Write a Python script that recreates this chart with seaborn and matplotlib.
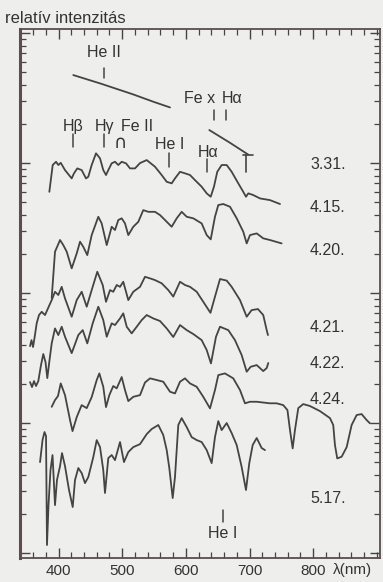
import numpy as np
import matplotlib
matplotlib.use("Agg")
import matplotlib.pyplot as plt
import seaborn as sns
from matplotlib.ticker import LogLocator, NullFormatter, MultipleLocator, FixedLocator

# ---- spectra: wavelength (nm) and log10 relative intensity ----
# 3.31. is only a continuum, drawn in two pieces
wl_331_a = [423.2, 465.2, 517.4, 548.8, 575.1]
lg_331_a = [2.677, 2.613, 2.528, 2.472, 2.428]
wl_331_b = [636.8, 669.3, 698.0]
lg_331_b = [2.254, 2.156, 2.065]

wl_415 = [385.6, 390.9, 396.1, 399.7, 403.5, 410.2, 420.7, 424.3, 429.5, 436.4,
          443.2, 446.8, 452.1, 458.9, 465.2, 470.3, 474.6, 478.2, 483.5, 488.7,
          493.9, 499.2, 506.0, 512.3, 520.1, 528.0, 538.5, 551.5, 562.0, 569.9,
          577.7, 582.9, 590.8, 598.6, 606.5, 614.3, 624.8, 632.7, 639.0, 644.1,
          649.3, 656.2, 664.1, 671.9, 682.3, 690.1, 694.4, 698.0, 705.8, 716.4,
          732.1, 747.8]
lg_415 = [1.779, 1.985, 2.010, 1.985, 2.002, 1.946, 1.882, 1.921, 1.959, 1.946,
          1.882, 1.895, 1.985, 2.075, 2.036, 1.946, 1.908, 1.946, 1.998, 2.010,
          1.985, 2.010, 1.998, 1.959, 1.959, 2.000, 2.023, 1.972, 1.908, 1.856,
          1.844, 1.882, 1.933, 1.921, 1.908, 1.869, 1.818, 1.767, 1.741, 1.818,
          1.933, 1.985, 1.985, 1.933, 1.844, 1.779, 1.741, 1.767, 1.754, 1.728,
          1.715, 1.685]

wl_420 = [389.3, 394.5, 402.4, 407.5, 412.9, 420.7, 428.6, 433.8, 438.9, 445.2,
          452.1, 462.5, 467.8, 475.7, 483.5, 488.7, 493.9, 499.2, 504.4, 509.6,
          517.4, 525.3, 533.1, 541.0, 551.5, 559.4, 567.2, 577.7, 585.6, 593.4,
          601.3, 611.6, 624.8, 632.7, 639.0, 645.7, 650.9, 658.7, 669.3, 679.8,
          690.1, 695.5, 700.7, 711.2, 721.5, 732.1, 750.4]
lg_420 = [0.962, 1.318, 1.408, 1.369, 1.318, 1.190, 1.305, 1.395, 1.356, 1.292,
          1.446, 1.587, 1.536, 1.369, 1.510, 1.485, 1.562, 1.575, 1.536, 1.446,
          1.510, 1.548, 1.638, 1.625, 1.625, 1.600, 1.562, 1.510, 1.575, 1.625,
          1.587, 1.575, 1.536, 1.446, 1.413, 1.587, 1.677, 1.685, 1.664, 1.575,
          1.472, 1.382, 1.446, 1.459, 1.421, 1.408, 1.382]

wl_421 = [355.3, 357.6, 360.0, 362.3, 365.8, 369.4, 373.6, 378.8, 384.0, 389.3,
          394.5, 399.7, 405.0, 410.2, 420.7, 428.6, 436.4, 444.3, 452.1, 460.9,
          469.4, 474.6, 480.9, 486.0, 491.4, 496.6, 501.7, 509.6, 517.4, 528.0,
          535.8, 543.7, 551.5, 562.0, 572.4, 580.2, 590.8, 598.6, 606.5, 617.0,
          627.3, 638.6, 645.7, 653.6, 664.1, 671.9, 685.0, 695.5, 703.3, 713.2,
          721.5, 726.9, 728.9]
lg_421 = [0.592, 0.638, 0.585, 0.654, 0.769, 0.831, 0.856, 0.831, 0.888, 0.946,
          1.010, 0.985, 1.048, 0.959, 0.818, 0.946, 1.010, 0.895, 1.023, 1.164,
          1.062, 0.933, 1.023, 1.010, 1.062, 1.048, 1.087, 0.946, 1.010, 1.048,
          1.125, 1.113, 1.100, 1.075, 1.023, 0.973, 1.087, 1.062, 1.048, 1.010,
          0.933, 0.848, 0.972, 1.108, 1.096, 1.048, 0.946, 0.818, 0.869, 0.877,
          0.831, 0.715, 0.677]

wl_422 = [355.3, 358.4, 361.5, 364.7, 368.3, 372.5, 376.1, 379.6, 382.4, 385.9,
          389.3, 394.5, 399.7, 405.0, 410.2, 420.7, 431.1, 438.0, 445.2, 453.7,
          462.5, 470.3, 475.7, 483.5, 488.7, 496.6, 501.7, 507.1, 514.9, 522.8,
          530.6, 538.5, 548.8, 559.4, 569.9, 580.2, 590.8, 601.3, 611.6, 624.8,
          632.7, 639.4, 647.3, 653.6, 666.6, 677.1, 687.6, 695.5, 701.8, 711.2,
          721.5, 726.9, 729.4]
lg_422 = [0.315, 0.277, 0.323, 0.285, 0.323, 0.446, 0.531, 0.469, 0.346, 0.485,
          0.613, 0.728, 0.677, 0.741, 0.664, 0.538, 0.677, 0.715, 0.613, 0.767,
          0.895, 0.792, 0.664, 0.767, 0.754, 0.805, 0.844, 0.741, 0.690, 0.741,
          0.792, 0.831, 0.805, 0.785, 0.728, 0.662, 0.754, 0.715, 0.685, 0.638,
          0.562, 0.459, 0.664, 0.741, 0.715, 0.638, 0.523, 0.395, 0.433, 0.446,
          0.400, 0.423, 0.462]

wl_424 = [389.3, 394.5, 399.2, 403.5, 410.2, 418.1, 422.0, 428.6, 436.4, 444.3,
          452.1, 460.0, 464.1, 470.3, 474.6, 479.8, 486.0, 491.4, 499.2, 504.4,
          509.6, 517.4, 528.0, 535.8, 543.7, 554.2, 564.5, 575.1, 582.9, 590.8,
          598.6, 606.5, 617.0, 627.3, 637.9, 645.7, 650.9, 661.4, 674.4, 685.0,
          692.8, 700.7, 711.2, 721.5, 732.1, 742.6, 752.9, 759.5, 763.5, 767.7,
          771.3, 776.5, 784.3, 794.9, 810.6, 826.3, 831.4, 834.1, 837.7, 844.6,
          852.5, 860.3, 868.2, 876.0, 883.9, 889.1]
lg_424 = [0.125, 0.177, 0.208, 0.305, 0.215, 0.023, -0.062, 0.046, 0.138, 0.115,
          0.200, 0.331, 0.382, 0.279, 0.123, 0.215, 0.285, 0.267, 0.354, 0.254,
          0.169, 0.202, 0.215, 0.312, 0.344, 0.331, 0.318, 0.241, 0.228, 0.318,
          0.344, 0.305, 0.279, 0.202, 0.113, 0.254, 0.369, 0.382, 0.344, 0.254,
          0.152, 0.164, 0.164, 0.158, 0.152, 0.152, 0.138, 0.100, -0.054, -0.195,
          -0.054, 0.115, 0.146, 0.131, 0.092, 0.038, -0.015, -0.169, -0.272, -0.259,
          -0.185, -0.015, 0.062, 0.069, 0.023, -0.002]

wl_517 = [371.0, 374.9, 378.0, 380.4, 381.9, 384.3, 387.4, 390.6, 394.5, 397.6,
          402.4, 405.5, 410.2, 416.5, 422.3, 425.9, 431.1, 436.4, 441.6, 446.8,
          454.6, 460.0, 465.2, 470.3, 473.0, 478.2, 483.5, 488.7, 496.6, 502.8,
          509.6, 517.4, 528.0, 538.5, 546.3, 556.7, 564.5, 569.9, 574.0, 579.3,
          582.9, 588.1, 593.4, 601.3, 609.1, 617.0, 624.8, 632.7, 640.5, 645.7,
          650.9, 656.2, 664.1, 671.9, 679.8, 687.6, 694.4, 699.6, 704.9, 711.2,
          719.0, 724.2]
lg_517 = [-0.300, -0.131, -0.069, -0.100, -0.938, -0.631, -0.362, -0.246, -0.631, -0.438,
          -0.331, -0.231, -0.331, -0.515, -0.646, -0.438, -0.346, -0.385, -0.462, -0.415,
          -0.262, -0.131, -0.185, -0.362, -0.538, -0.269, -0.246, -0.285, -0.146, -0.300,
          -0.223, -0.185, -0.162, -0.085, -0.046, -0.015, -0.092, -0.208, -0.346, -0.577,
          -0.415, -0.015, 0.038, -0.031, -0.108, -0.131, -0.146, -0.208, -0.308, -0.108,
          0.015, -0.054, 0.000, -0.077, -0.169, -0.338, -0.515, -0.308, -0.169, -0.115,
          -0.192, -0.208]

# observing dates and where their labels sit (axes fraction)
dates = ["3.31.", "4.15.", "4.20.", "4.21.", "4.22.", "4.24.", "5.17."]
date_y = [0.743, 0.662, 0.582, 0.435, 0.367, 0.299, 0.113]

# line identifications: label, label x (nm), label y, tick x (nm), tick y0, tick y1
line_ids = [
    ("He II", 470.7, 0.955, 471.9, 0.926, 0.907),
    ("Fe x", 622.0, 0.868, 644.9, 0.847, 0.828),
    ("H\u03b1", 672.4, 0.868, 663.0, 0.847, 0.828),
    ("H\u03b2", 423.6, 0.815, 422.8, 0.802, 0.777),
    ("H\u03b3", 472.0, 0.815, 471.4, 0.802, 0.777),
    ("He I", 574.3, 0.781, 573.5, 0.766, 0.739),
    ("H\u03b1", 634.7, 0.767, 633.1, 0.754, 0.730),
    ("He I", 658.3, 0.047, 658.7, 0.091, 0.068),
]

x_ticks = [400, 500, 600, 700, 800]

INK = "#444444"
PAPER = "#eeeeec"

sns.set_theme(style="ticks")
plt.rcParams["font.family"] = ["Liberation Sans Narrow", "Liberation Sans", "DejaVu Sans"]

fig = plt.figure(figsize=(3.83, 5.82), dpi=100, facecolor=PAPER)
ax = fig.add_axes([0.0535, 0.0412, 0.9386, 0.9089], facecolor=PAPER)
ax.set_yscale("log")

series = [
    (wl_331_a, lg_331_a), (wl_331_b, lg_331_b),
    (wl_415, lg_415), (wl_420, lg_420), (wl_421, lg_421),
    (wl_422, lg_422), (wl_424, lg_424), (wl_517, lg_517),
]
for wl, lg in series:
    sns.lineplot(x=np.array(wl), y=10.0 ** np.array(lg), ax=ax, color=INK,
                 lw=1.3, sort=False, estimator=None)

xt = ax.get_xaxis_transform()

# end bracket of the 3.31. continuum
ax.plot([689.7, 705.4], [0.762, 0.762], transform=xt, color=INK, lw=1.2)
ax.plot([695.1, 695.1], [0.762, 0.730], transform=xt, color=INK, lw=1.2)

for label, lx, ly, tx, ty0, ty1 in line_ids:
    ax.text(lx, ly, label, transform=xt, ha="center", va="center",
            fontsize=11.5, color="#333333")
    ax.plot([tx, tx], [ty0, ty1], transform=xt, color=INK, lw=1.1)

# Fe II blend marker
ax.text(524.0, 0.815, "Fe II", transform=xt, ha="center", va="center",
        fontsize=11.5, color="#333333")
ax.text(496.6, 0.785, "\u2229", transform=xt, ha="center", va="center",
        fontsize=13, color="#333333", family=["DejaVu Sans"])

for d, dy in zip(dates, date_y):
    ax.text(795.0, dy, d, transform=xt, ha="left", va="center",
            fontsize=11.5, color="#333333")

ax.set_xlim(340.3, 904.8)
ax.set_ylim(0.0916, 1074)
ax.xaxis.set_major_locator(FixedLocator(x_ticks))
ax.xaxis.set_minor_locator(MultipleLocator(20))
ax.set_xticklabels([str(t) for t in x_ticks])
ax.yaxis.set_major_locator(LogLocator(base=10, numticks=12))
ax.yaxis.set_minor_locator(LogLocator(base=10, subs=np.arange(2, 10), numticks=40))
ax.yaxis.set_major_formatter(NullFormatter())
ax.yaxis.set_minor_formatter(NullFormatter())
ax.tick_params(which="both", direction="in", top=True, right=True,
               colors=INK, labelcolor="#333333", labelsize=11)
ax.tick_params(which="major", length=7, width=1.0, pad=4)
ax.tick_params(which="minor", length=4, width=0.9)
ax.set_xlabel("")
ax.set_ylabel("")
for side, sp in ax.spines.items():
    sp.set_color("#5a4e4e")
    sp.set_linewidth(1.3)
ax.spines["left"].set_linewidth(2.2)

ax.text(831.0, -0.0227, "\u03bb(nm)", transform=xt, ha="left", va="center",
        fontsize=11, color="#333333")
fig.text(5 / 383, 0.961, "relatív intenzitás", ha="left", va="baseline",
         fontsize=12, color="#333333")

fig.savefig("out.png", dpi=100, facecolor=PAPER)
